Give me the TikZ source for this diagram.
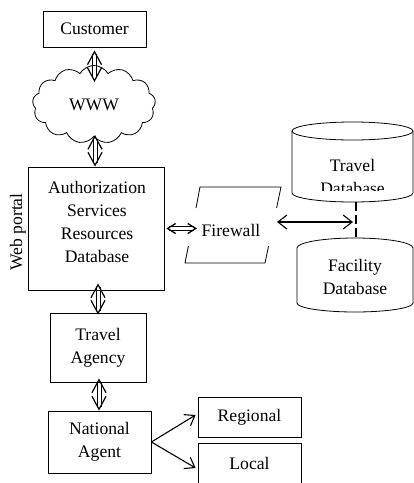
\documentclass[tikz,border=0pt]{standalone}
\usepackage{fontspec}
\setmainfont{Liberation Serif}
\usetikzlibrary{arrows.meta,shapes.symbols}
\newcommand\DblArrV[2]{%
  \draw[dblline] ([xshift=-2pt]#1) -- ([xshift=-2pt]#2);
  \draw[dblline] ([xshift=2pt]#1) -- ([xshift=2pt]#2);
  \draw[tipsv] (#1) -- (#2);}
\newcommand\DblArrH[2]{%
  \draw[dbllineh] ([yshift=-1.7pt]#1) -- ([yshift=-1.7pt]#2);
  \draw[dbllineh] ([yshift=1.7pt]#1) -- ([yshift=1.7pt]#2);
  \draw[tipsh] (#1) -- (#2);}
\begin{document}
\begin{tikzpicture}[x=1pt,y=-1pt,
  every node/.style={font=\fontsize{17.6}{22.7}\selectfont, align=center, inner sep=1.5pt},
  box/.style={draw, line width=0.8pt, inner sep=0pt},
  outl/.style={line width=0.8pt},
  dblline/.style={line width=0.8pt, shorten <=4pt, shorten >=4pt},
  dbllineh/.style={line width=0.9pt, shorten <=3pt, shorten >=3pt},
  tipsv/.style={line width=1.2pt, dash pattern=on 0pt off 2000pt, line cap=butt,
      arrows={Straight Barb[length=13pt,width=14pt]-Straight Barb[length=13pt,width=14pt]}},
  tipsh/.style={line width=1.3pt, dash pattern=on 0pt off 2000pt, line cap=butt,
      arrows={Straight Barb[length=8pt,width=10pt]-Straight Barb[length=8pt,width=10pt]}},
  sarr/.style={line width=1.1pt, {Straight Barb[length=9pt,width=14pt]}-{Straight Barb[length=9pt,width=14pt]}},
  oarr/.style={line width=1.1pt, -{Straight Barb[length=9pt,width=13pt]}},
  dbline/.style={line width=1.8pt, dash pattern=on 9pt off 4pt}
]
\useasboundingbox (0,0) rectangle (414,483);

% boxes
\node[box, minimum width=103pt, minimum height=36pt] (cust) at (94.5,29) {Customer};
\node[cloud, draw, line width=0.8pt, cloud puffs=13, cloud puff arc=120, aspect=1.9,
      minimum width=123pt, minimum height=78pt, inner sep=0pt] (www) at (94,104.5) {WWW};
\node[box, minimum width=136pt, minimum height=123pt] (web) at (96,228.5) {};
\node (webt) at (97,222) {Authorization\\Services\\Resources\\Database};
\node[rotate=90] (wpl) at (18,232) {Web portal};
\node[box, minimum width=96pt, minimum height=69pt] (ta) at (98,347.5) {Travel\\Agency};
\node[box, minimum width=103pt, minimum height=62pt] (nat) at (99.5,442) {National\\Agent};
\node[box, minimum width=103pt, minimum height=40pt] (reg) at (249.5,417) {Regional};
\node[box, minimum width=103pt, minimum height=48pt] (loc) at (249.5,467) {};
\node (loct) at (249.5,463) {Local};

% firewall
\draw[outl] (196,208) -- (200,187) -- (281,187) -- (276.6,208);
\draw[outl] (188.4,246) -- (185,263) -- (265,263) -- (268.6,246);
\node (fw) at (231,230) {Firewall};

% travel database cylinder
\draw[outl] (292,131) -- (292,193) arc[start angle=180, end angle=0, x radius=60.5, y radius=9] -- (413,131);
\draw[outl] (352.5,131) ellipse[x radius=60.5, y radius=9];
\begin{scope}
  \clip (290,140) rectangle (414,190);
  \node (tdb) at (352.5,177) {Travel\\Database};
\end{scope}

% facility database cylinder
\draw[outl] (297,303) -- (297,248) arc[start angle=180, end angle=360, x radius=58, y radius=10] -- (413,303);
\draw[outl] (297,303) arc[start angle=180, end angle=0, x radius=58, y radius=9];
\node (fdb) at (355,277) {Facility\\Database};

% link between databases
\coordinate (tdbb) at (356,202);
\coordinate (fdbt) at (356,238);
\coordinate (dbm) at (356,222);
\draw[dbline] (tdbb) -- (fdbt);

% connector end points
\coordinate (c1a) at ([yshift=-3pt]cust.south);
\coordinate (c1b) at (c1a |- 0,82);
\coordinate (c2a) at (95,135);
\coordinate (c2b) at (c2a |- web.north);
\coordinate (c3a) at ([yshift=7pt]ta.north |- web.south);
\coordinate (c3b) at ([yshift=-2pt]ta.north);
\coordinate (c4a) at ([yshift=4pt]ta.south -| 99,0);
\coordinate (c4b) at (c4a |- nat.north);
\coordinate (c5a) at ([xshift=2pt]web.east);
\coordinate (c5b) at ([xshift=-3pt]web.east -| fw.west);

% connectors
\DblArrV{c1a}{c1b}
\DblArrV{c2a}{c2b}
\DblArrV{c3a}{c3b}
\DblArrV{c4a}{c4b}
\DblArrH{c5a}{c5b}
\draw[sarr, shorten >=3pt] ([xshift=15pt,yshift=8pt]fw.east) -- (dbm);
\draw[oarr] (nat.east) -- ([xshift=-2pt,yshift=2pt]reg.west);
\draw[oarr] (nat.east) -- ([xshift=-2pt]loc.west |- 0,468);
\end{tikzpicture}
\end{document}
